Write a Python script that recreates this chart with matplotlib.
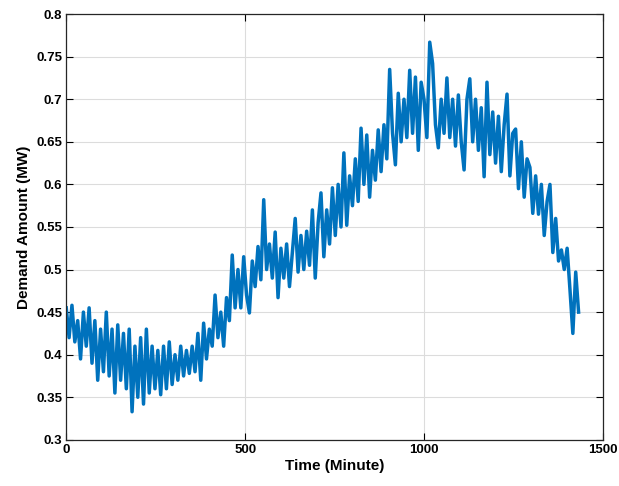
# -*- coding: utf-8 -*-
"""
Demand amount over one day (minute resolution), MATLAB-style line plot.
"""

import numpy as np
import matplotlib
matplotlib.use("Agg")
import matplotlib.pyplot as plt
from matplotlib.ticker import FuncFormatter

# --- Data (zigzag peaks/troughs, every 8 minutes)
minutes = np.arange(0, 1433, 8)
demand = [
    0.455, 0.420, 0.458, 0.415, 0.440, 0.395, 0.450, 0.410, 0.455, 0.390,   # 0-72
    0.440, 0.370, 0.430, 0.380, 0.450, 0.375, 0.430, 0.355, 0.435, 0.370,   # 80-152
    0.425, 0.360, 0.430, 0.333, 0.410, 0.350, 0.420, 0.342, 0.430, 0.355,   # 160-232
    0.410, 0.360, 0.405, 0.353, 0.410, 0.360, 0.415, 0.365, 0.400, 0.370,   # 240-312
    0.410, 0.375, 0.405, 0.378, 0.410, 0.380, 0.425, 0.370, 0.437, 0.395,   # 320-392
    0.430, 0.410, 0.470, 0.420, 0.450, 0.410, 0.467, 0.440, 0.517, 0.455,   # 400-472
    0.500, 0.455, 0.515, 0.470, 0.449, 0.510, 0.480, 0.527, 0.488, 0.582,   # 480-552
    0.500, 0.530, 0.490, 0.544, 0.467, 0.525, 0.490, 0.530, 0.480, 0.520,   # 560-632
    0.560, 0.497, 0.540, 0.500, 0.545, 0.505, 0.570, 0.490, 0.555, 0.590,   # 640-712
    0.515, 0.570, 0.530, 0.596, 0.540, 0.600, 0.550, 0.637, 0.552, 0.610,   # 720-792
    0.575, 0.630, 0.580, 0.666, 0.600, 0.658, 0.585, 0.640, 0.605, 0.664,   # 800-872
    0.615, 0.670, 0.630, 0.735, 0.660, 0.623, 0.707, 0.650, 0.700, 0.655,   # 880-952
    0.734, 0.660, 0.726, 0.640, 0.720, 0.700, 0.655, 0.767, 0.742, 0.670,   # 960-1032
    0.643, 0.700, 0.660, 0.725, 0.655, 0.700, 0.645, 0.705, 0.650, 0.617,   # 1040-1112
    0.700, 0.724, 0.650, 0.700, 0.640, 0.690, 0.609, 0.720, 0.635, 0.685,   # 1120-1192
    0.625, 0.680, 0.615, 0.670, 0.706, 0.610, 0.660, 0.665, 0.595, 0.650,   # 1200-1272
    0.585, 0.630, 0.620, 0.566, 0.610, 0.565, 0.600, 0.540, 0.580, 0.600,   # 1280-1352
    0.520, 0.560, 0.510, 0.523, 0.500, 0.525, 0.476, 0.425, 0.497, 0.450,   # 1360-1432
]

x_ticks = [0, 500, 1000, 1500]
y_ticks = [0.3, 0.35, 0.4, 0.45, 0.5, 0.55, 0.6, 0.65, 0.7, 0.75, 0.8]

# --- Figure
plt.rcParams['font.family'] = ['Liberation Sans', 'DejaVu Sans']
fig = plt.figure(figsize=(6.19, 4.86), dpi=100)
ax = fig.add_axes([0.107, 0.095, 0.867, 0.876])

ax.plot(minutes, demand, color='#0072BD', linewidth=2.5)

ax.set_xlim(0, 1500)
ax.set_ylim(0.3, 0.8)
ax.set_xticks(x_ticks)
ax.set_yticks(y_ticks)
ax.yaxis.set_major_formatter(FuncFormatter(lambda v, p: '%g' % v))

# MATLAB look: light grid, inward ticks on every side
ax.grid(True, color='#dcdcdc', linewidth=0.8)
ax.set_axisbelow(True)
ax.tick_params(direction='in', top=True, right=True, length=5,
               width=0.8, labelsize=9.5, pad=3)
for lab in ax.get_xticklabels() + ax.get_yticklabels():
    lab.set_fontweight('bold')
for s in ax.spines.values():
    s.set_linewidth(0.9)
    s.set_color('#262626')

ax.set_xlabel("Time (Minute)", fontsize=11, fontweight='bold', labelpad=2)
ax.set_ylabel("Demand Amount (MW)", fontsize=11, fontweight='bold', labelpad=4)

fig.savefig("out.png", dpi=100)
